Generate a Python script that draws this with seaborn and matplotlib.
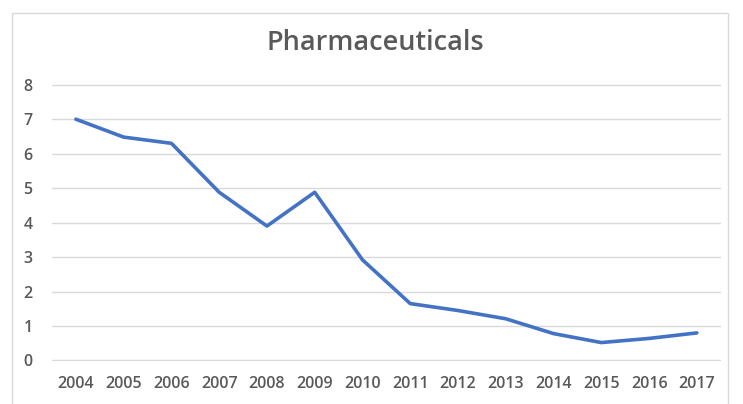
import pandas as pd
import matplotlib.pyplot as plt
import seaborn as sns
from matplotlib.patches import Rectangle

years = ['2004', '2005', '2006', '2007', '2008', '2009', '2010',
         '2011', '2012', '2013', '2014', '2015', '2016', '2017']
values = [7.0, 6.48, 6.3, 4.88, 3.9, 4.88, 2.92,
          1.65, 1.45, 1.21, 0.78, 0.52, 0.64, 0.8]

df = pd.DataFrame({'year': years, 'value': values})

sns.set_style('white')
plt.rcParams['font.family'] = ['Open Sans', 'DejaVu Sans']
text_col = '#595959'

fig = plt.figure(figsize=(7.43, 4.04), dpi=100)
ax = fig.add_axes([0.07, 0.106, 0.90, 0.686])

sns.lineplot(data=df, x='year', y='value', ax=ax, color='#4472C4',
             linewidth=2.6, sort=False)

ax.set_xlim(-0.5, len(years) - 0.5)
ax.set_ylim(-0.02, 8.02)
ax.set_yticks(range(0, 9))
ax.grid(axis='y', color='#D9D9D9', linewidth=1)
ax.set_axisbelow(True)
for s in ax.spines.values():
    s.set_visible(False)
ax.tick_params(axis='both', length=0, labelsize=11.5, labelcolor=text_col)
ax.tick_params(axis='x', pad=11)
ax.tick_params(axis='y', pad=14)
for lbl in ax.get_xticklabels() + ax.get_yticklabels():
    lbl.set_fontweight('semibold')
ax.set_xlabel('')
ax.set_ylabel('')

fig.text(0.505, 0.893, 'Pharmaceuticals', ha='center', va='center',
         fontsize=19.5, fontweight='semibold', color=text_col)

# chart border like the Excel chart area
fig.patches.append(Rectangle((12 / 743, -0.05), 716 / 743, 1.05 - 13 / 404,
                             transform=fig.transFigure, fill=False,
                             edgecolor='#D9D9D9', linewidth=1))

fig.savefig('out.png', dpi=100)
